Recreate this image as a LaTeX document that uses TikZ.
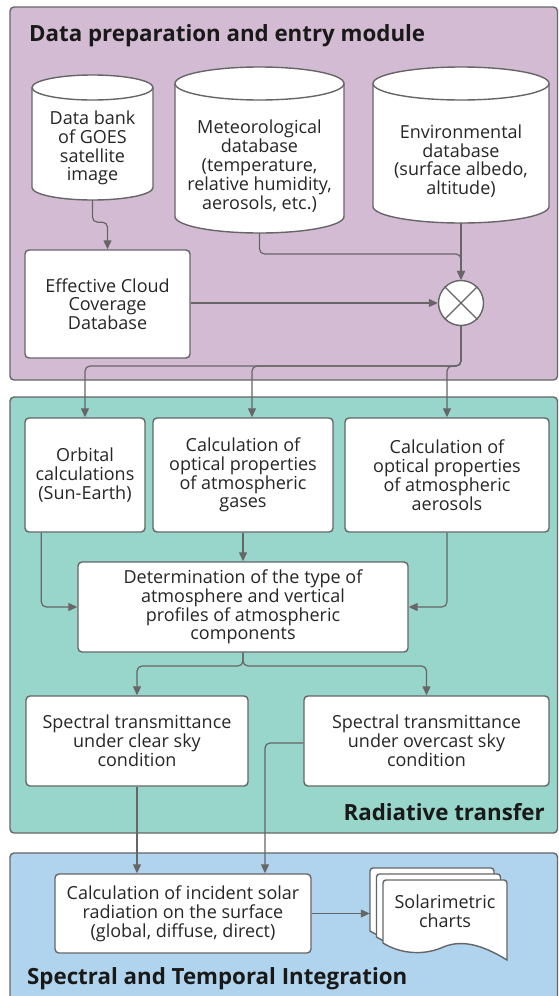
\documentclass[tikz,border=0pt]{standalone}
\usepackage{fontspec}
\setmainfont{Open Sans}
\usetikzlibrary{arrows.meta,calc}
\definecolor{edge}{HTML}{666666}
\definecolor{purp}{HTML}{D3BBD3}
\definecolor{tealp}{HTML}{98D5CA}
\definecolor{bluep}{HTML}{B0D4EE}
\newcommand{\bodyfont}{\fontsize{18pt}{18.8pt}\selectfont}
\newcommand{\headfont}{\fontsize{22.3pt}{24pt}\selectfont\bfseries}
\tikzset{
  panel/.style={draw=edge, line width=1.4pt, rounded corners=4pt},
  box/.style={draw=edge, fill=white, line width=1.4pt, rounded corners=4pt,
    align=center, inner sep=0pt, font=\bodyfont, text=black!85},
  cylpath/.style={draw=edge, fill=white, line width=1.4pt},
  txt/.style={align=center, inner sep=0pt, font=\bodyfont, text=black!85},
  head/.style={inner sep=0pt, font=\headfont, text=black!90},
  conn/.style={draw=edge, line width=1.2pt, rounded corners=5pt,
    -{Triangle[length=9pt,width=8pt]}},
  docpath/.style={draw=edge, fill=white, line width=1.4pt}
}
% #1 name, #2 cx, #3 top, #4 width, #5 height, #6 ry, #7 text centre y, #8 text
\newcommand{\dbcyl}[8]{%
  \pgfmathsetmacro\cL{#2-#4/2}\pgfmathsetmacro\cR{#2+#4/2}%
  \pgfmathsetmacro\cT{#3+#6}\pgfmathsetmacro\cB{#3+#5-#6}\pgfmathsetmacro\cRx{#4/2}%
  \path[cylpath] (\cL,\cT) -- (\cL,\cB)
     arc[start angle=180,end angle=360,x radius=\cRx pt,y radius=#6pt]
     -- (\cR,\cT)
     arc[start angle=0,end angle=180,x radius=\cRx pt,y radius=#6pt] -- cycle;
  \draw[cylpath, fill=none] (\cL,\cT)
     arc[start angle=180,end angle=360,x radius=\cRx pt,y radius=#6pt];
  \node[inner sep=0pt, minimum width=#4pt, minimum height=#5pt] (#1) at (#2,{#3+#5/2}) {};
  \node[txt] (#1t) at (#2,#7) {#8};
}
% #1 left, #2 top
\newcommand{\docsheet}[2]{%
  \pgfmathsetmacro\dL{#1}\pgfmathsetmacro\dT{#2}%
  \path[docpath] (\dL,\dT+63) [rounded corners=3pt] -- (\dL,\dT) -- (\dL+124,\dT)
    [sharp corners] -- (\dL+124,\dT+80)
    .. controls (\dL+95,\dT+62) and (\dL+75,\dT+60) .. (\dL+58,\dT+68)
    .. controls (\dL+38,\dT+76) and (\dL+16,\dT+73) .. (\dL,\dT+63) -- cycle;
}
\begin{document}
\begin{tikzpicture}[x=1pt,y=-1pt]
\useasboundingbox (0,0) rectangle (559,996);
\fill[white] (0,0) rectangle (559,996);

% panels
\path[panel, fill=purp] (10,7) rectangle (557.5,380);
\path[panel, fill=tealp] (10,397) rectangle (557.5,833);
\path[panel, fill=bluep] (10,853) rectangle (557.5,1010);

\node[head, anchor=base west] (h1) at (29,41) {Data preparation and entry module};
\node[head, anchor=base east] (h2) at (545,820) {Radiative transfer};
\node[head, anchor=base west] (h3) at (27,984) {Spectral and Temporal Integration};

% databases
\dbcyl{cyla}{92.5}{75}{121}{125}{12.5}{148}{Data bank\\of GOES\\satellite\\image}
\dbcyl{cylb}{259.5}{67}{169}{166}{16.5}{166}{Meteorological\\database\\(temperature,\\relative humidity,\\aerosols, etc.)}
\dbcyl{cylc}{461}{67}{176}{156}{16.5}{161}{Environmental\\database\\(surface albedo,\\altitude)}

% boxes
\node[box, minimum width=165pt, minimum height=108pt] (ecc) at (107.5,304) {Effective Cloud\\Coverage\\Database};
\node[circle, draw=edge, fill=white, line width=1.4pt, minimum size=45pt, inner sep=0pt] (mix) at (461,303) {};
\draw[edge, line width=1.4pt] (mix.north west) -- (mix.south east) (mix.north east) -- (mix.south west);

\node[box, minimum width=120pt, minimum height=114pt] (orb) at (85,475) {Orbital\\calculations\\(Sun-Earth)};
\node[box, minimum width=180pt, minimum height=114pt] (gas) at (243,475) {Calculation of\\optical properties\\of atmospheric\\gases};
\node[box, minimum width=204pt, minimum height=114pt] (aer) at (447,475) {Calculation of\\optical properties\\of atmospheric\\aerosols};
\node[box, minimum width=330pt, minimum height=90pt] (det) at (243,607) {Determination of the type of\\atmosphere and vertical\\profiles of atmospheric\\components};
\node[box, minimum width=222pt, minimum height=90pt] (clr) at (137,741) {Spectral transmittance\\under clear sky\\condition};
\node[box, minimum width=245pt, minimum height=90pt] (ovc) at (426.5,741) {Spectral transmittance\\under overcast sky\\condition};
\node[box, minimum width=256pt, minimum height=79pt] (calc) at (183,913.5) {Calculation of incident solar\\radiation on the surface\\(global, diffuse, direct)};

% document stack
\docsheet{370}{868}
\docsheet{376.5}{874}
\docsheet{383}{880}
\node[inner sep=0pt, minimum width=122pt, minimum height=90pt] (docs) at (431,913) {};
\node[txt] (docst) at (445,911) {Solarimetric\\charts};

% connectors
\draw[conn] (cyla.south) -- ++(0,22) -| (ecc.north);
\coordinate (jn) at (cylc.south |- 0,254);
\draw[conn] (cylb.south) |- (jn) -- (mix.north);
\draw[conn] (cylc.south) -- (mix.north);
\draw[conn] (ecc.east |- mix.west) -- (mix.west);
\coordinate (sp) at (mix.south |- 0,366);
\draw[conn] (mix.south) -- (sp) -| (orb.north);
\draw[conn] (mix.south) -- (sp) -| ([xshift=9pt]gas.north);
\draw[conn] (mix.south) -- (sp) -| (aer.north);
\draw[conn] ([xshift=17pt]orb.south west) |- (det.west);
\draw[conn] (gas.south) -- (det.north);
\draw[conn] (aer.south) |- (det.east);
\coordinate (sp2) at (det.south |- 0,666);
\draw[conn] (det.south) -- (sp2) -| (clr.north);
\draw[conn] (det.south) -- (sp2) -| (ovc.north);
\draw[conn] (clr.south) -- (clr.south |- calc.north);
\draw[conn] ([yshift=-2pt]ovc.west) -| ([xshift=82pt]calc.north);
\draw[conn] (calc.east) -- (docs.west |- calc.east);
\end{tikzpicture}
\end{document}
